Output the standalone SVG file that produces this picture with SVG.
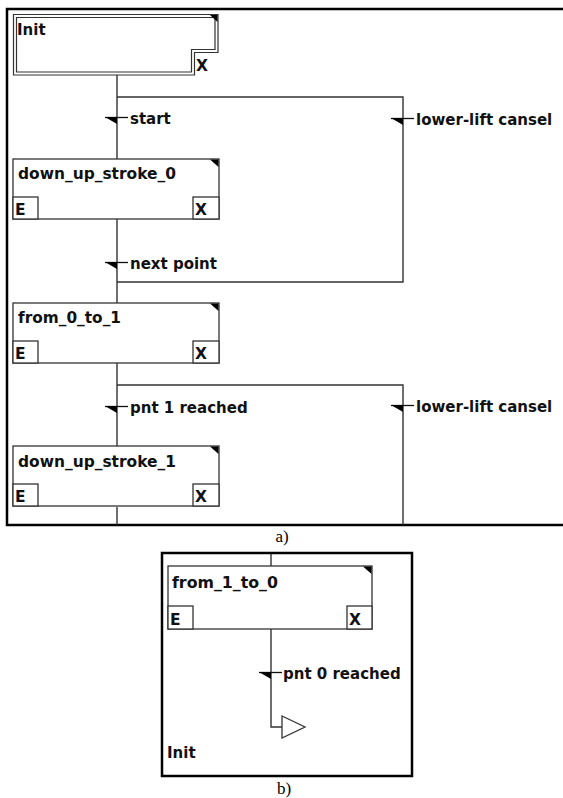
<svg xmlns="http://www.w3.org/2000/svg" width="563" height="798" viewBox="0 0 563 798">
<style>
  .frame{fill:none;stroke:#000;stroke-width:2.5}
  .box{fill:#fff;stroke:#333;stroke-width:1.3}
  .ln{fill:none;stroke:#333;stroke-width:1.4}
  .corner{fill:#000}
  .lbl{font-family:"DejaVu Sans",Verdana,sans-serif;font-weight:bold;font-size:15px;fill:#111}
  .ex{font-family:"DejaVu Sans",Verdana,sans-serif;font-weight:bold;font-size:15.5px;fill:#111}
  .cap{font-family:"Liberation Serif","Times New Roman",serif;font-size:17px;fill:#000}
</style>
<defs>
  <g id="tmark">
    <path d="M-12,-0.5 H11" fill="none" stroke="#111" stroke-width="1.3"/>
    <polygon points="-12,-1 0,-1 0,6" fill="#000"/>
  </g>
  <g id="state">
    <rect x="0" y="0" width="206" height="60" class="box"/>
    <rect x="0" y="38" width="25" height="22" class="box"/>
    <rect x="180" y="38" width="26" height="22" class="box"/>
    <polygon points="197,0.5 205.5,0.5 205.5,8" class="corner"/>
    <text x="2" y="56" class="ex">E</text>
    <text x="182" y="56" class="ex">X</text>
  </g>
</defs>

<!-- frame a -->
<path d="M564,9 H7 V525 H564" class="frame"/>
<text x="282" y="542" class="cap" text-anchor="middle">a)</text>

<!-- connectors -->
<g id="connectors">
  <path d="M117,75 V159" class="ln"/>
  <path d="M117,97 H403 V282 H117" class="ln"/>
  <path d="M117,219 V303" class="ln"/>
  <path d="M117,363 V446" class="ln"/>
  <path d="M117,385 H403 V525" class="ln"/>
  <path d="M117,507 V525" class="ln"/>
  <path d="M271,553 V566" class="ln"/>
  <path d="M271,629 V727 H282" class="ln"/>
  <use href="#tmark" x="117" y="118"/>
  <text x="130" y="124" class="lbl">start</text>
  <use href="#tmark" x="403" y="119"/>
  <text x="416" y="125" class="lbl">lower-lift cansel</text>
  <use href="#tmark" x="117" y="263"/>
  <text x="130" y="269" class="lbl">next point</text>
  <use href="#tmark" x="117" y="407"/>
  <text x="130" y="413" class="lbl">pnt 1 reached</text>
  <use href="#tmark" x="403" y="406"/>
  <text x="416" y="412" class="lbl">lower-lift cansel</text>
  <use href="#tmark" x="271" y="673"/>
  <text x="283" y="679" class="lbl">pnt 0 reached</text>
</g>

<!-- Init -->
<g id="init">
  <path d="M13.5,14.5 H218 V52.5 H194.5 V75 H13.5 Z" fill="#fff" stroke="#333" stroke-width="1.2"/>
  <path d="M16.5,17.5 H215 V49.5 H191.5 V72 H16.5 Z" fill="none" stroke="#333" stroke-width="1.2"/>
  <polygon points="210,15 217.5,15 217.5,22" class="corner"/>
  <text x="17" y="35" class="lbl">Init</text>
  <text x="196" y="71" class="ex">X</text>
</g>

<g id="down_up_stroke_0">
  <use href="#state" x="13" y="159"/>
  <text x="18" y="179" class="lbl" textLength="158" lengthAdjust="spacingAndGlyphs">down_up_stroke_0</text>
</g>

<g id="from_0_to_1">
  <use href="#state" x="13" y="303"/>
  <text x="18" y="323" class="lbl" textLength="103" lengthAdjust="spacingAndGlyphs">from_0_to_1</text>
</g>

<g id="down_up_stroke_1">
  <use href="#state" x="13" y="446"/>
  <text x="18" y="467" class="lbl" textLength="158" lengthAdjust="spacingAndGlyphs">down_up_stroke_1</text>
</g>

<!-- frame b -->
<rect x="162" y="553" width="250" height="223" class="frame"/>
<text x="284" y="794" class="cap" text-anchor="middle">b)</text>

<g id="from_1_to_0">
  <rect x="168" y="566" width="204" height="63" class="box"/>
  <rect x="168" y="606" width="25" height="23" class="box"/>
  <rect x="347" y="606" width="25" height="23" class="box"/>
  <polygon points="363,566.5 371.5,566.5 371.5,574" class="corner"/>
  <text x="172" y="588" class="lbl" textLength="106" lengthAdjust="spacingAndGlyphs">from_1_to_0</text>
  <text x="170" y="625" class="ex">E</text>
  <text x="349" y="625" class="ex">X</text>
</g>

<g id="init_ref">
  <polygon points="282,716 305,727 282,738" fill="#fff" stroke="#333" stroke-width="1.3"/>
  <text x="167" y="758" class="lbl">Init</text>
</g>
</svg>
